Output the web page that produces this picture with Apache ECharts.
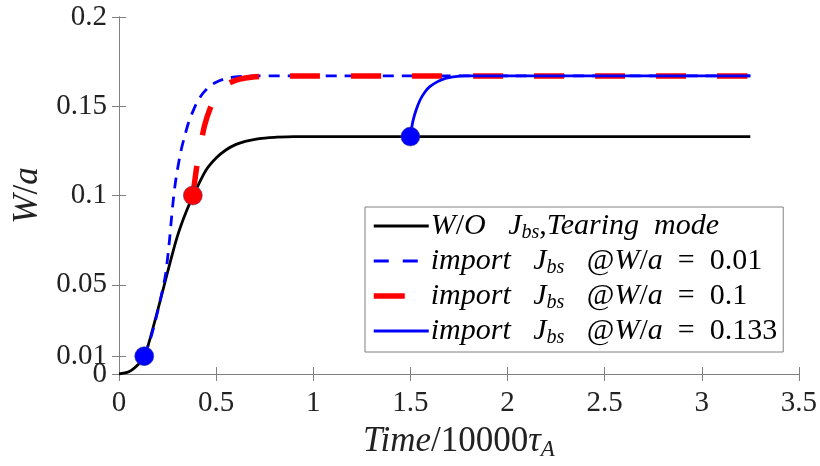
<!DOCTYPE html>
<html><head><meta charset="utf-8">
<script src="https://cdn.jsdelivr.net/npm/echarts@6/dist/echarts.min.js"></script>
<style>html,body{margin:0;padding:0;background:#fff}#c{width:820px;height:466px}</style>
</head><body><div id="c"></div>
<script>
// ---- data ----
const xTicks = [0, 0.5, 1, 1.5, 2, 2.5, 3, 3.5];
const yTicks = [0, 0.01, 0.05, 0.1, 0.15, 0.2];
const yLabelsMain = [0.01, 0.05, 0.1, 0.15, 0.2];
const yLabelsZero = [0];

const tNoJbs = [0,0.05,0.1,0.13,0.15,0.2,0.25,0.3,0.35,0.4,0.45,0.5,0.55,0.6,0.65,0.7,0.75,0.8,0.9,1.0,1.5,2,2.5,3,3.25];
const wNoJbs = [0,0.0012,0.0055,0.01,0.016,0.036,0.057,0.077,0.092,0.104,0.1145,0.121,0.1255,0.1285,0.1303,0.1315,0.1322,0.1326,0.133,0.133,0.133,0.133,0.133,0.133,0.133];

const tJ001 = [0.13,0.16,0.19,0.22,0.24,0.26,0.27,0.28,0.29,0.30,0.32,0.34,0.36,0.38,0.40,0.43,0.46,0.5,0.55,0.6,0.65,0.7,1.0,1.5,2,2.5,3,3.25];
const wJ001 = [0.01,0.019,0.031,0.045,0.056,0.075,0.087,0.098,0.107,0.114,0.1255,0.134,0.1415,0.147,0.1518,0.157,0.1605,0.1635,0.1655,0.1664,0.1668,0.167,0.167,0.167,0.167,0.167,0.167,0.167];

const tJ01 = [0.38,0.39,0.40,0.42,0.44,0.47,0.50,0.53,0.56,0.6,0.65,0.7,0.75,0.8,1.0,1.5,2,2.5,3,3.25];
const wJ01 = [0.1,0.108,0.116,0.128,0.139,0.149,0.1555,0.1598,0.1625,0.1645,0.1658,0.1665,0.1669,0.167,0.167,0.167,0.167,0.167,0.167,0.167];

const tJ0133 = [1.5,1.505,1.515,1.53,1.55,1.575,1.6,1.64,1.68,1.72,1.78,2,2.5,3,3.25];
const wJ0133 = [0.133,0.137,0.1425,0.148,0.1535,0.158,0.161,0.1638,0.1656,0.1665,0.167,0.167,0.167,0.167,0.167];

const importT = [0.13, 0.38, 1.5];
const importW = [0.01, 0.1, 0.133];
const importColors = ['#0000ff', '#ff0000', '#0000ff'];

const legendLabels = {
  noJbs: '{i|W}{r|/}{i|O}{r|   }{i|J}{s|bs}{r|,}{i|Tearing}{r|  }{i|mode}',
  j001: '{i|import}{r|   }{i|J}{s|bs}{r|   @}{i|W}{r|/}{i|a}{r|  =  0.01}',
  j01: '{i|import}{r|   }{i|J}{s|bs}{r|   @}{i|W}{r|/}{i|a}{r|  =  0.1}',
  j0133: '{i|import}{r|   }{i|J}{s|bs}{r|   @}{i|W}{r|/}{i|a}{r|  =  0.133}'
};

const zip = (a, b) => a.map((v, i) => [v, b[i]]);
const FONT = 'serif';
const AX = '#808080';
const TXT = '#222';

const chart = echarts.init(document.getElementById('c'));
chart.setOption({
  textStyle: {fontFamily: FONT},
  title: {text: ' ', left: -50, top: -50, textStyle: {fontFamily: FONT, fontSize: 29}},
  grid: {left: 119, right: 20, top: 17, bottom: 86},
  xAxis: [{
    type: 'value', min: 0, max: 3.5, interval: 0.5,
    axisLine: {lineStyle: {color: AX, width: 1}},
    axisTick: {inside: true, length: 7, lineStyle: {color: AX}},
    axisLabel: {fontFamily: FONT, fontSize: 29, color: TXT, margin: 15,
      showMinLabel: true, showMaxLabel: true},
    splitLine: {show: false},
    name: '{i|Time}{r|/10000}{i|τ}{s|A}',
    nameLocation: 'middle', nameGap: 48,
    nameTextStyle: {fontFamily: FONT, fontSize: 35, rich: {
      i: {fontFamily: FONT, fontStyle: 'italic', fontSize: 35, color: TXT},
      r: {fontFamily: FONT, fontStyle: 'normal', fontSize: 35, color: TXT},
      s: {fontFamily: FONT, fontStyle: 'italic', fontSize: 23, color: TXT, padding: [16, 0, 0, 0]}
    }}
  }, {
    type: 'value', min: 0, max: 3.5, interval: 0.5, position: 'top',
    axisLine: {lineStyle: {color: AX, width: 1}},
    axisTick: {inside: true, length: 7, lineStyle: {color: AX}},
    axisLabel: {show: false}, splitLine: {show: false}
  }],
  yAxis: [{
    type: 'value', min: 0, max: 0.2, splitLine: {show: false},
    axisLine: {show: true, lineStyle: {color: AX, width: 1}},
    axisTick: {show: true, inside: true, length: 7, lineStyle: {color: AX}, customValues: yTicks},
    axisLabel: {fontFamily: FONT, fontSize: 29, color: TXT, margin: 12,
      customValues: yLabelsMain, showMinLabel: true, showMaxLabel: true},
    name: '{i|W}{r|/}{i|a}',
    nameLocation: 'middle', nameGap: 74, nameRotate: 90,
    nameTextStyle: {fontFamily: FONT, fontSize: 35, rich: {
      i: {fontFamily: FONT, fontStyle: 'italic', fontSize: 35, color: TXT},
      r: {fontFamily: FONT, fontStyle: 'normal', fontSize: 35, color: TXT}
    }}
  }, {
    type: 'value', min: 0, max: 0.2, splitLine: {show: false}, position: 'right',
    axisLine: {show: true, lineStyle: {color: AX, width: 1}},
    axisTick: {show: true, inside: true, length: 7, lineStyle: {color: AX}, customValues: yTicks},
    axisLabel: {show: false}
  }, {
    type: 'value', min: 0, max: 0.2, splitLine: {show: false}, position: 'left',
    axisLine: {show: false}, axisTick: {show: false},
    axisLabel: {fontFamily: FONT, fontSize: 29, color: TXT, margin: 12,
      customValues: yLabelsZero, showMinLabel: true}
  }],
  legend: {
    orient: 'vertical', left: 365, top: 207,
    data: [
      {name: 'noJbs', itemStyle: {opacity: 0}, lineStyle: {color: '#000', width: 2.8, type: 'solid'}},
      {name: 'j001', itemStyle: {opacity: 0}, lineStyle: {color: '#0000ff', width: 2.8, type: [15, 14]}},
      {name: 'j01', itemStyle: {opacity: 0}, lineStyle: {color: '#ff0000', width: 5.5, type: [31, 40]}},
      {name: 'j0133', itemStyle: {opacity: 0}, lineStyle: {color: '#0000ff', width: 2.8, type: 'solid'}}
    ],
    itemWidth: 55, itemHeight: 30, itemGap: 3,
    padding: [4, 6, 4, 6],
    borderColor: AX, borderWidth: 1, backgroundColor: '#fff',
    textStyle: {fontFamily: FONT, fontSize: 30, color: '#000', padding: [0, 0, 0, -3], rich: {
      i: {fontFamily: FONT, fontStyle: 'italic', fontSize: 30, color: '#000'},
      r: {fontFamily: FONT, fontStyle: 'normal', fontSize: 30, color: '#000'},
      s: {fontFamily: FONT, fontStyle: 'italic', fontSize: 20, color: '#000', padding: [14, 0, 0, 0]}
    }},
    formatter: n => legendLabels[n]
  },
  series: [
    {name: 'noJbs', type: 'line', data: zip(tNoJbs, wNoJbs), symbol: 'none', smooth: 0.3,
      lineStyle: {color: '#000', width: 2.8}, itemStyle: {color: '#000'}, z: 2},
    {name: 'j001', type: 'line', data: zip(tJ001, wJ001), symbol: 'none', smooth: 0.3,
      lineStyle: {color: '#0000ff', width: 2.8, type: [11, 8]}, itemStyle: {color: '#0000ff'}, z: 3},
    {name: 'j01', type: 'line', data: zip(tJ01, wJ01), symbol: 'none', smooth: 0.3,
      lineStyle: {color: '#ff0000', width: 5.5, type: [30, 31]}, itemStyle: {color: '#ff0000'}, z: 4},
    {name: 'j0133', type: 'line', data: zip(tJ0133, wJ0133), symbol: 'none', smooth: 0.3,
      lineStyle: {color: '#0000ff', width: 2.8}, itemStyle: {color: '#0000ff'}, z: 5},
    {name: 'points', type: 'scatter', symbol: 'circle', symbolSize: 19, z: 6,
      data: importT.map((t, i) => ({value: [t, importW[i]],
        itemStyle: {color: importColors[i], opacity: 1, borderColor: 'rgba(60,60,120,0.5)', borderWidth: 1}}))}
  ]
});
</script>
</body></html>
